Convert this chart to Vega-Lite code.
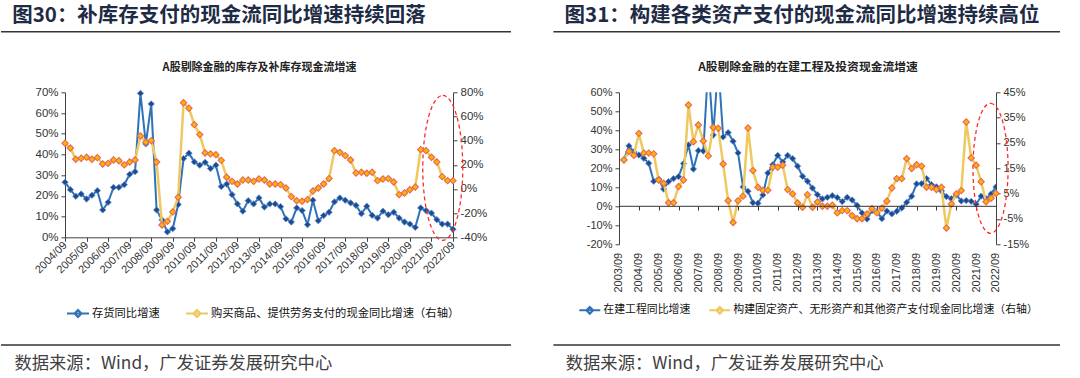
{
  "$schema": "https://vega.github.io/schema/vega-lite/v6.json",
  "background": "white",
  "padding": {"left": 0, "top": 6.3, "right": 0, "bottom": 6},
  "spacing": 40,
  "resolve": {"scale": {"color": "independent"}},
  "config": {"view": {"stroke": null}, "axis": {"grid": false, "labelOverlap": false}},
  "datasets": {
    "L": [
      {"q":0,"a":26.6,"b":37.8},{"q":1,"a":23.0,"b":33.9},{"q":2,"a":19.8,"b":24.6},{"q":3,"a":20.9,"b":25.4},{"q":4,"a":18.5,"b":26.2},
      {"q":5,"a":20.3,"b":24.6},{"q":6,"a":22.5,"b":25.9},{"q":7,"a":13.2,"b":20.7},{"q":8,"a":16.9,"b":21.2},{"q":9,"a":24.1,"b":24.0},
      {"q":10,"a":24.1,"b":23.4},{"q":11,"a":25.4,"b":19.9},{"q":12,"a":30.4,"b":22.3},{"q":13,"a":31.7,"b":24.0},{"q":14,"a":69.5,"b":43.9},
      {"q":15,"a":45.1,"b":38.6},{"q":16,"a":64.4,"b":40.0},{"q":17,"a":13.2,"b":22.3},{"q":18,"a":8.4,"b":-29.8},{"q":19,"a":2.6,"b":-26.8},
      {"q":20,"a":4.2,"b":-19.0},{"q":21,"a":15.8,"b":-6.9},{"q":22,"a":38.0,"b":71.4},{"q":23,"a":40.6,"b":66.8},{"q":24,"a":36.4,"b":53.2},
      {"q":25,"a":34.8,"b":45.0},{"q":26,"a":36.2,"b":29.8},{"q":27,"a":33.2,"b":29.0},{"q":28,"a":34.8,"b":28.4},{"q":29,"a":24.5,"b":23.7},
      {"q":30,"a":25.7,"b":9.7},{"q":31,"a":20.6,"b":6.3},{"q":32,"a":16.1,"b":4.1},{"q":33,"a":12.6,"b":7.4},{"q":34,"a":17.7,"b":7.4},
      {"q":35,"a":16.1,"b":6.3},{"q":36,"a":19.0,"b":8.3},{"q":37,"a":14.6,"b":7.4},{"q":38,"a":16.1,"b":4.1},{"q":39,"a":16.1,"b":4.1},
      {"q":40,"a":14.8,"b":3.6},{"q":41,"a":8.9,"b":0.8},{"q":42,"a":7.4,"b":-6.3},{"q":43,"a":14.2,"b":-9.7},{"q":44,"a":12.9,"b":-10.2},
      {"q":45,"a":6.1,"b":-8.8},{"q":46,"a":17.9,"b":-1.7},{"q":47,"a":8.0,"b":0.8},{"q":48,"a":10.5,"b":4.1},{"q":49,"a":12.1,"b":8.6},
      {"q":50,"a":17.1,"b":31.7},{"q":51,"a":19.0,"b":30.3},{"q":52,"a":17.9,"b":27.6},{"q":53,"a":16.6,"b":24.0},{"q":54,"a":15.4,"b":13.2},
      {"q":55,"a":11.4,"b":13.8},{"q":56,"a":15.0,"b":13.0},{"q":57,"a":10.6,"b":13.8},{"q":58,"a":9.3,"b":6.9},{"q":59,"a":12.6,"b":8.3},
      {"q":60,"a":10.9,"b":8.6},{"q":61,"a":12.1,"b":5.8},{"q":62,"a":9.3,"b":-4.7},{"q":63,"a":7.4,"b":-3.3},{"q":64,"a":6.4,"b":-0.6},
      {"q":65,"a":4.8,"b":1.6},{"q":66,"a":14.2,"b":32.6},{"q":67,"a":12.9,"b":31.7},{"q":68,"a":11.7,"b":26.2},{"q":69,"a":8.5,"b":22.3},
      {"q":70,"a":6.4,"b":10.2},{"q":71,"a":6.4,"b":6.9},{"q":72,"a":3.9,"b":6.9}
    ],
    "R": [
      {"q":1,"a":24.4,"b":18.3},{"q":2,"a":31.8,"b":21.6},{"q":3,"a":28.6,"b":20.1},{"q":4,"a":27.0,"b":28.8},{"q":5,"a":25.3,"b":21.0},
      {"q":6,"a":22.6,"b":21.0},{"q":7,"a":13.2,"b":20.7},{"q":8,"a":14.4,"b":10.4},{"q":9,"a":9.1,"b":9.1},{"q":10,"a":13.0,"b":1.4},
      {"q":11,"a":14.6,"b":1.4},{"q":12,"a":15.6,"b":7.8},{"q":13,"a":22.5,"b":10.4},{"q":14,"a":32.3,"b":40.0},{"q":15,"a":19.6,"b":25.5},
      {"q":16,"a":29.3,"b":32.1},{"q":17,"a":29.1,"b":25.8},{"q":18,"a":75,"b":19.9},{"q":19,"a":37.5,"b":31.1},{"q":20,"a":75,"b":30.8},
      {"q":21,"a":36.5,"b":16.7},{"q":22,"a":38.8,"b":2.2},{"q":23,"a":34.2,"b":-6.4},{"q":24,"a":28.1,"b":2.2},{"q":25,"a":10.2,"b":4.0},
      {"q":26,"a":7.9,"b":30.9},{"q":27,"a":1.9,"b":14.1},{"q":28,"a":1.6,"b":7.5},{"q":29,"a":6.0,"b":6.3},{"q":30,"a":17.5,"b":6.3},
      {"q":31,"a":21.9,"b":15.4},{"q":32,"a":26.8,"b":15.4},{"q":33,"a":23.3,"b":16.2},{"q":34,"a":26.8,"b":6.6},{"q":35,"a":25.1,"b":4.9},
      {"q":36,"a":21.1,"b":1.3},{"q":37,"a":15.8,"b":-0.4},{"q":38,"a":13.2,"b":4.6},{"q":39,"a":9.6,"b":-0.4},{"q":40,"a":6.1,"b":1.7},
      {"q":41,"a":3.9,"b":0.0},{"q":42,"a":4.7,"b":0.0},{"q":43,"a":5.6,"b":0.4},{"q":44,"a":4.6,"b":-2.6},{"q":45,"a":2.5,"b":-1.7},
      {"q":46,"a":4.7,"b":-1.7},{"q":47,"a":3.3,"b":-3.7},{"q":48,"a":0.5,"b":-4.9},{"q":49,"a":-3.5,"b":-4.9},{"q":50,"a":-6.7,"b":-3.0},
      {"q":51,"a":-2.3,"b":-0.9},{"q":52,"a":-2.8,"b":-2.6},{"q":53,"a":-6.5,"b":-0.7},{"q":54,"a":-2.5,"b":2.0},{"q":55,"a":-4.0,"b":7.2},
      {"q":56,"a":-2.6,"b":10.9},{"q":57,"a":-0.9,"b":10.9},{"q":58,"a":2.1,"b":18.8},{"q":59,"a":5.3,"b":14.9},{"q":60,"a":11.8,"b":16.4},
      {"q":61,"a":11.9,"b":15.8},{"q":62,"a":14.6,"b":7.5},{"q":63,"a":11.4,"b":7.5},{"q":64,"a":10.2,"b":6.6},{"q":65,"a":8.1,"b":7.5},
      {"q":66,"a":5.1,"b":-8.6},{"q":67,"a":4.0,"b":0.9},{"q":68,"a":6.0,"b":4.9},{"q":69,"a":2.8,"b":6.2},{"q":70,"a":3.0,"b":33.3},
      {"q":71,"a":2.6,"b":19.1},{"q":72,"a":1.1,"b":16.2},{"q":73,"a":5.3,"b":9.7},{"q":74,"a":4.0,"b":1.8},{"q":75,"a":6.5,"b":3.2},
      {"q":76,"a":10.2,"b":5.1}
    ]
  },
  "hconcat": [
    {
      "width": 388,
      "height": 145,
      "title": {"text": "图30：补库存支付的现金流同比增速持续回落", "anchor": "start", "frame": "bounds", "dx": 12, "offset": 4, "font": "Noto Sans CJK SC", "fontSize": 20.5, "fontWeight": "bold", "color": "#1E2B45"},
      "resolve": {"scale": {"y": "independent"}, "axis": {"x": "independent", "y": "independent"}},
      "layer": [
        {
          "layer": [
            {
              "data": {"name": "L"},
              "mark": {"type": "line", "color": "#2E72B8", "strokeWidth": 2},
              "encoding": {
                "x": {"field": "q", "type": "quantitative", "scale": {"domain": [0, 72], "nice": false, "zero": false},
                  "axis": {"orient": "bottom", "values": [0,4,8,12,16,20,24,28,32,36,40,44,48,52,56,60,64,68,72], "tickCount": 100, "labelExpr": "(2004 + datum.value/4) + '/09'", "labelAngle": -45, "labelAlign": "right", "labelBaseline": "middle", "labelFont": "Liberation Sans", "labelFontSize": 11, "labelColor": "#333", "labelPadding": 2, "tickSize": 4, "tickColor": "#404040", "domainColor": "#404040", "labelOverlap": false,
                    "title": "数据来源：Wind，广发证券发展研究中心", "titleFont": "Noto Sans CJK SC", "titleFontSize": 17.3, "titleFontWeight": "normal", "titleColor": "#404040", "titleX": -51, "titleY": 126.4, "titleAlign": "left", "titleBaseline": "middle", "titleAnchor": "start"}},
                "y": {"field": "a", "type": "quantitative", "scale": {"domain": [0, 70], "nice": false, "zero": false},
                  "axis": {"orient": "left", "values": [0,10,20,30,40,50,60,70], "tickCount": 100, "labelExpr": "datum.value + '%'", "labelFont": "Liberation Sans", "labelFontSize": 11.5, "labelColor": "#333", "tickSize": 4, "tickColor": "#404040", "domainColor": "#404040", "labelPadding": 3, "labelOverlap": false, "title": null}},
                "color": {"datum": "存货同比增速", "scale": {"domain": ["存货同比增速", "购买商品、提供劳务支付的现金同比增速（右轴）"], "range": ["#2E72B8", "#EFC860"]},
                  "legend": {"orient": "none", "legendX": 1, "legendY": 209, "direction": "horizontal", "title": null, "padding": 0, "symbolType": "M-1,0H1M0,-0.32L0.32,0L0,0.32L-0.32,0Z", "symbolSize": 484, "symbolStrokeWidth": 2, "labelFont": "Noto Sans CJK SC", "labelFontSize": 11.3, "labelColor": "#111", "labelOffset": 2, "labelLimit": 500, "columnPadding": 22}}
              }
            },
            {
              "data": {"name": "L"},
              "mark": {"type": "point", "shape": "diamond", "filled": true, "fill": "#1F4A8E", "stroke": "#5A8FD0", "strokeWidth": 0.8, "size": 40, "opacity": 1},
              "encoding": {"x": {"field": "q", "type": "quantitative"}, "y": {"field": "a", "type": "quantitative"}}
            },
            {
              "data": {"values": [{}]},
              "mark": {"type": "rule", "color": "#333333", "strokeWidth": 1.5},
              "encoding": {"x": {"datum": -11.88}, "x2": {"datum": 82.76}, "y": {"datum": 99.26}}
            },
            {
              "data": {"values": [{}]},
              "mark": {"type": "rule", "color": "#333333", "strokeWidth": 1.5},
              "encoding": {"x": {"datum": -11.88}, "x2": {"datum": 82.76}, "y": {"datum": -52.0}}
            },
            {
              "data": {"values": [{}]},
              "mark": {"type": "point", "shape": "M0,-1A0.276,1,0,1,1,0,1A0.276,1,0,1,1,0,-1Z", "size": 21025, "filled": false, "stroke": "#FF2A2A", "strokeWidth": 1.3, "strokeDash": [4, 3], "opacity": 1},
              "encoding": {"x": {"datum": 70.1}, "y": {"datum": 33.5}}
            }
          ]
        },
        {
          "layer": [
            {
              "data": {"name": "L"},
              "mark": {"type": "line", "color": "#EFC860", "strokeWidth": 2.5},
              "encoding": {
                "x": {"field": "q", "type": "quantitative", "scale": {"domain": [0, 72], "nice": false, "zero": false},
                  "axis": {"orient": "top", "labels": false, "ticks": false, "domain": false, "title": "A股剔除金融的库存及补库存现金流增速", "titleFont": "Noto Sans CJK SC", "titleFontSize": 11, "titleFontWeight": "bold", "titleColor": "#222", "titlePadding": 20}},
                "y": {"field": "b", "type": "quantitative", "scale": {"domain": [-40, 80], "nice": false, "zero": false},
                  "axis": {"orient": "right", "values": [-40,-20,0,20,40,60,80], "tickCount": 100, "labelExpr": "datum.value + '%'", "labelFont": "Liberation Sans", "labelFontSize": 11.5, "labelColor": "#333", "tickSize": 4, "tickColor": "#404040", "domainColor": "#404040", "labelPadding": 3, "labelOverlap": false, "title": null}},
                "color": {"datum": "购买商品、提供劳务支付的现金同比增速（右轴）"}
              }
            },
            {
              "data": {"name": "L"},
              "mark": {"type": "point", "shape": "diamond", "filled": true, "fill": "#FFB300", "stroke": "#E5685A", "strokeWidth": 1.1, "size": 40, "opacity": 1},
              "encoding": {"x": {"field": "q", "type": "quantitative"}, "y": {"field": "b", "type": "quantitative"}}
            }
          ]
        }
      ]
    },
    {
      "width": 377,
      "height": 152,
      "title": {"text": "图31：构建各类资产支付的现金流同比增速持续高位", "anchor": "start", "frame": "bounds", "dx": 12, "offset": 4, "font": "Noto Sans CJK SC", "fontSize": 20.5, "fontWeight": "bold", "color": "#1E2B45"},
      "resolve": {"scale": {"y": "independent"}, "axis": {"x": "independent", "y": "independent"}},
      "layer": [
        {
          "layer": [
            {
              "data": {"name": "R"},
              "mark": {"type": "line", "color": "#2E72B8", "strokeWidth": 2, "clip": true},
              "encoding": {
                "x": {"field": "q", "type": "quantitative", "scale": {"domain": [0, 76], "nice": false, "zero": false},
                  "axis": {"orient": "bottom", "values": [0,4,8,12,16,20,24,28,32,36,40,44,48,52,56,60,64,68,72,76], "tickCount": 100, "labelExpr": "(2003 + datum.value/4) + '/09'", "labelAngle": -90, "labelAlign": "right", "labelBaseline": "middle", "labelFont": "Liberation Sans", "labelFontSize": 11, "labelColor": "#333", "labelPadding": 8, "ticks": false, "domain": false, "labelOverlap": false,
                    "title": "数据来源：Wind，广发证券发展研究中心", "titleFont": "Noto Sans CJK SC", "titleFontSize": 17.3, "titleFontWeight": "normal", "titleColor": "#404040", "titleX": -53.7, "titleY": 119.4, "titleAlign": "left", "titleBaseline": "middle", "titleAnchor": "start"}},
                "y": {"field": "a", "type": "quantitative", "scale": {"domain": [-20, 60], "nice": false, "zero": false},
                  "axis": {"orient": "left", "values": [-20,-10,0,10,20,30,40,50,60], "tickCount": 100, "labelExpr": "datum.value + '%'", "labelFont": "Liberation Sans", "labelFontSize": 11, "labelColor": "#333", "tickSize": 4, "tickColor": "#404040", "domainColor": "#404040", "labelPadding": 3, "labelOverlap": false, "title": null}},
                "color": {"datum": "在建工程同比增速", "scale": {"domain": ["在建工程同比增速", "构建固定资产、无形资产和其他资产支付现金同比增速（右轴）"], "range": ["#2E72B8", "#EFC860"]},
                  "legend": {"orient": "none", "legendX": -40.7, "legendY": 206.5, "direction": "horizontal", "title": null, "padding": 0, "symbolType": "M-1,0H1M0,-0.32L0.32,0L0,0.32L-0.32,0Z", "symbolSize": 441, "symbolStrokeWidth": 2, "labelFont": "Noto Sans CJK SC", "labelFontSize": 10.9, "labelColor": "#111", "labelOffset": 2, "labelLimit": 500, "columnPadding": 14}}
              }
            },
            {
              "data": {"name": "R"},
              "mark": {"type": "point", "shape": "diamond", "filled": true, "fill": "#1F4A8E", "stroke": "#5A8FD0", "strokeWidth": 0.8, "size": 40, "opacity": 1, "clip": true},
              "encoding": {"x": {"field": "q", "type": "quantitative"}, "y": {"field": "a", "type": "quantitative"}}
            },
            {
              "data": {"values": [{}]},
              "mark": {"type": "rule", "color": "#333333", "strokeWidth": 1.5},
              "encoding": {"x": {"datum": -13.23}, "x2": {"datum": 88.9}, "y": {"datum": 91.9}}
            },
            {
              "data": {"values": [{}]},
              "mark": {"type": "rule", "color": "#333333", "strokeWidth": 1.5},
              "encoding": {"x": {"datum": -13.23}, "x2": {"datum": 88.9}, "y": {"datum": -73.0}}
            },
            {
              "data": {"values": [{}]},
              "mark": {"type": "point", "shape": "M0,-1A0.27,1,0,1,1,0,1A0.27,1,0,1,1,0,-1Z", "size": 16900, "filled": false, "stroke": "#FF2A2A", "strokeWidth": 1.3, "strokeDash": [4, 3], "opacity": 1},
              "encoding": {"x": {"datum": 74.9}, "y": {"datum": 20.0}}
            }
          ]
        },
        {
          "layer": [
            {
              "data": {"name": "R"},
              "mark": {"type": "line", "color": "#EFC860", "strokeWidth": 2.5},
              "encoding": {
                "x": {"field": "q", "type": "quantitative", "scale": {"domain": [0, 76], "nice": false, "zero": false},
                  "axis": {"orient": "top", "labels": false, "ticks": false, "domain": false, "title": "A股剔除金融的在建工程及投资现金流增速", "titleFont": "Noto Sans CJK SC", "titleFontSize": 11.8, "titleFontWeight": "bold", "titleColor": "#222", "titlePadding": 20}},
                "y": {"field": "b", "type": "quantitative", "scale": {"domain": [-15, 45], "nice": false, "zero": false},
                  "axis": {"orient": "right", "values": [-15,-5,5,15,25,35,45], "tickCount": 100, "labelExpr": "datum.value + '%'", "labelFont": "Liberation Sans", "labelFontSize": 11, "labelColor": "#333", "tickSize": 4, "tickColor": "#404040", "domainColor": "#404040", "labelPadding": 3, "labelOverlap": false, "title": null}},
                "color": {"datum": "构建固定资产、无形资产和其他资产支付现金同比增速（右轴）"}
              }
            },
            {
              "data": {"name": "R"},
              "mark": {"type": "point", "shape": "diamond", "filled": true, "fill": "#FFB300", "stroke": "#E5685A", "strokeWidth": 1.1, "size": 40, "opacity": 1},
              "encoding": {"x": {"field": "q", "type": "quantitative"}, "y": {"field": "b", "type": "quantitative"}}
            }
          ]
        },
        {
          "data": {"values": [{}]},
          "mark": {"type": "rule", "color": "#333333", "strokeWidth": 1},
          "encoding": {
            "x": {"datum": 0, "axis": {"orient": "bottom", "offset": -38.3, "values": [0,4,8,12,16,20,24,28,32,36,40,44,48,52,56,60,64,68,72,76], "tickCount": 100, "labels": false, "domain": false, "ticks": true, "tickSize": 4, "tickColor": "#333", "title": null}},
            "x2": {"datum": 76},
            "y": {"datum": 0, "scale": {"domain": [-20, 60], "nice": false, "zero": false}, "axis": null}
          }
        }
      ]
    }
  ]
}
